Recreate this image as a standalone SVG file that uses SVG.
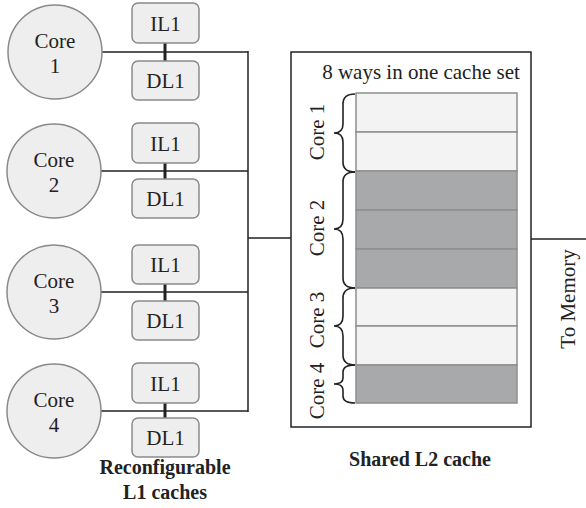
<svg xmlns="http://www.w3.org/2000/svg" width="586" height="508" viewBox="0 0 586 508">
<style>
.core{fill:#eeeeee;stroke:#8a8a8a;stroke-width:1.5}
.l1{fill:#eeeeee;stroke:#8a8a8a;stroke-width:1.5}
.t{font-family:"Liberation Serif","Times New Roman",serif;font-size:21px;fill:#222;text-anchor:middle}
.b{font-family:"Liberation Serif","Times New Roman",serif;font-size:20px;font-weight:bold;fill:#222;text-anchor:middle}
.w{fill:none;stroke:#222;stroke-width:1.5}
.thick{fill:none;stroke:#222;stroke-width:3}
.lt{fill:#f3f3f3;stroke:#8f8f8f;stroke-width:1.5}
.dk{fill:#a8a9ab;stroke:#8f8f8f;stroke-width:1.5}
.br{fill:none;stroke:#222;stroke-width:1.6}
</style>
<g id="connectors">
<path class="w" d="M102 52H248M100 171H248M100 292H248M100 411H248M248 51V412M248 238H291M531 239H586"/>
<path class="thick" d="M165 43V61M165 163V179M165 284V301M165 403V418"/>
</g>
<g id="core1"><circle class="core" cx="55" cy="52" r="47"/><text class="t" x="55" y="48">Core</text><text class="t" x="55" y="73">1</text></g>
<g id="core2"><circle class="core" cx="54" cy="171" r="47"/><text class="t" x="54" y="167">Core</text><text class="t" x="54" y="192">2</text></g>
<g id="core3"><circle class="core" cx="54" cy="292" r="47"/><text class="t" x="54" y="288">Core</text><text class="t" x="54" y="313">3</text></g>
<g id="core4"><circle class="core" cx="54" cy="411" r="47"/><text class="t" x="54" y="407">Core</text><text class="t" x="54" y="432">4</text></g>
<g id="il1-1"><rect class="l1" x="132" y="3" width="67" height="40" rx="6"/><text class="t" x="165.5" y="31">IL1</text></g>
<g id="dl1-1"><rect class="l1" x="132" y="61" width="67" height="39" rx="6"/><text class="t" x="165.5" y="88">DL1</text></g>
<g id="il1-2"><rect class="l1" x="132" y="123" width="67" height="40" rx="6"/><text class="t" x="165.5" y="151">IL1</text></g>
<g id="dl1-2"><rect class="l1" x="132" y="179" width="67" height="39" rx="6"/><text class="t" x="165.5" y="206">DL1</text></g>
<g id="il1-3"><rect class="l1" x="132" y="245" width="67" height="39" rx="6"/><text class="t" x="165.5" y="272">IL1</text></g>
<g id="dl1-3"><rect class="l1" x="132" y="301" width="67" height="39" rx="6"/><text class="t" x="165.5" y="328">DL1</text></g>
<g id="il1-4"><rect class="l1" x="132" y="363" width="67" height="40" rx="6"/><text class="t" x="165.5" y="391">IL1</text></g>
<g id="dl1-4"><rect class="l1" x="132" y="418" width="67" height="39" rx="6"/><text class="t" x="165.5" y="445">DL1</text></g>
<g id="l1label"><text class="b" x="165" y="474">Reconfigurable</text><text class="b" x="165" y="499">L1 caches</text></g>
<g id="l2">
<rect x="291" y="52" width="240" height="375" fill="#fff" stroke="#222" stroke-width="1.5"/>
<text class="t" x="421" y="79">8 ways in one cache set</text>
<rect class="lt" x="356" y="93" width="161" height="39"/>
<rect class="lt" x="356" y="132" width="161" height="39"/>
<rect class="dk" x="356" y="171" width="161" height="39"/>
<rect class="dk" x="356" y="210" width="161" height="39"/>
<rect class="dk" x="356" y="249" width="161" height="39"/>
<rect class="lt" x="356" y="288" width="161" height="38"/>
<rect class="lt" x="356" y="326" width="161" height="39"/>
<rect class="dk" x="356" y="365" width="161" height="38"/>
<path class="br" d="M355 94Q343 94 343 104V124Q343 133 334 133Q343 133 343 142V162Q343 172 355 172"/>
<path class="br" d="M355 172Q343 172 343 182V219Q343 229 334 229Q343 229 343 239V278Q343 288 355 288"/>
<path class="br" d="M355 288Q343 288 343 298V316Q343 326 334 326Q343 326 343 336V355Q343 365 355 365"/>
<path class="br" d="M355 365Q343 365 343 372V378Q343 384 334 384Q343 384 343 390V396Q343 403 355 403"/>
<text class="t" transform="translate(324 132) rotate(-90)">Core 1</text>
<text class="t" transform="translate(324 228) rotate(-90)">Core 2</text>
<text class="t" transform="translate(324 320) rotate(-90)">Core 3</text>
<text class="t" transform="translate(324 391) rotate(-90)">Core 4</text>
<text class="b" x="420" y="466">Shared L2 cache</text>
</g>
<g id="memory"><text class="t" transform="translate(575 299) rotate(-90)">To Memory</text></g>
</svg>
